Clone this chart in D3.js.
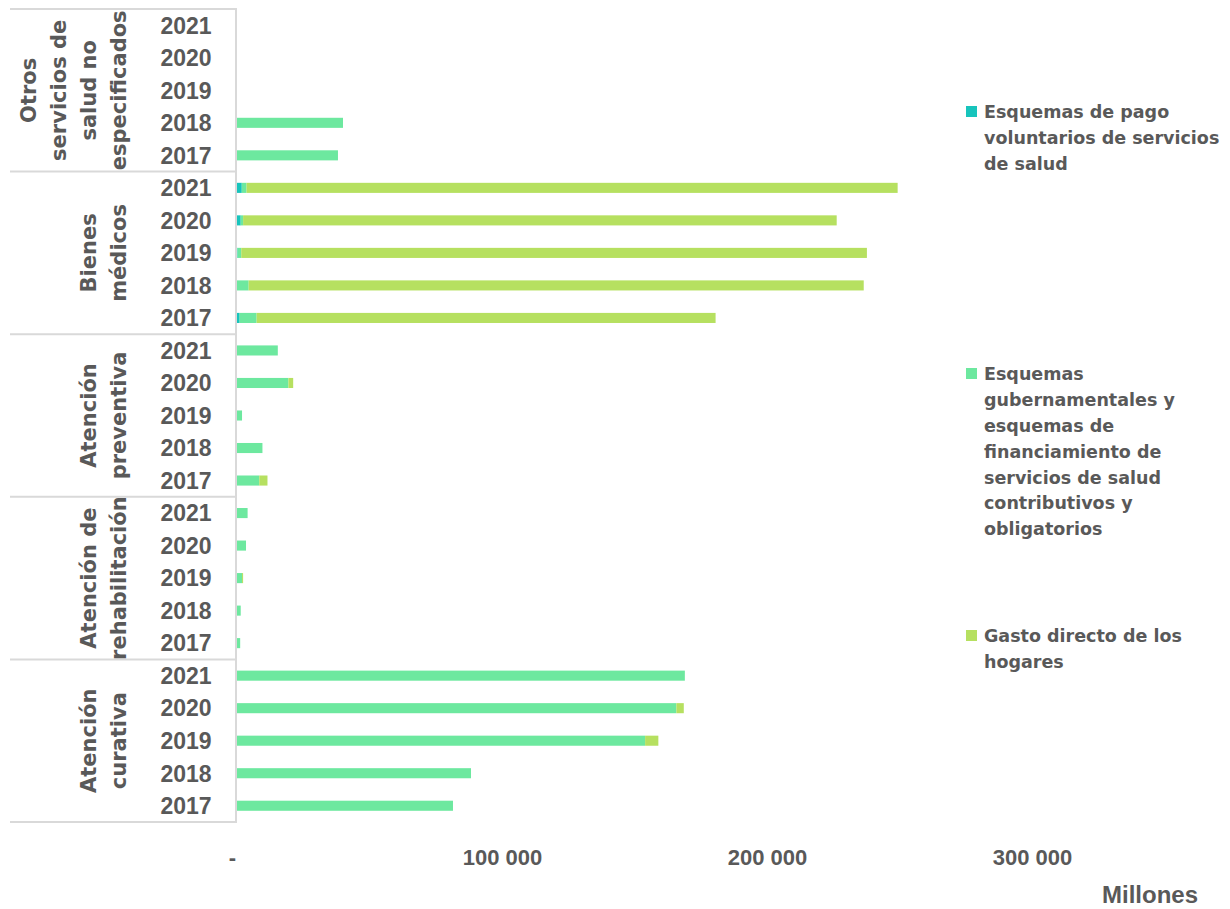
<!DOCTYPE html>
<html>
<head>
<meta charset="utf-8">
<script src="https://cdn.jsdelivr.net/npm/d3@7"></script>
<style>
  body { margin: 0; background: #fff; }
  text { font-family: "Liberation Sans", Arial, sans-serif; font-weight: bold; fill: #595959; }
  .wide { font-family: "DejaVu Sans", sans-serif; }
</style>
</head>
<body>
<div id="chart"></div>
<script>
// categories (top to bottom)
const groups = [
  'Otros servicios de salud no especificados',
  'Bienes médicos',
  'Atención preventiva',
  'Atención de rehabilitación',
  'Atención curativa'
];
const groupLines = [
  ['Otros', 'servicios de', 'salud no', 'especificados'],
  ['Bienes', 'médicos'],
  ['Atención', 'preventiva'],
  ['Atención de', 'rehabilitación'],
  ['Atención', 'curativa']
];
const years = ['2021', '2020', '2019', '2018', '2017'];

// series values, millones, per group in years order
const voluntarios = [
  [0, 0, 0, 0, 0],
  [1800, 1400, 200, 0, 1000],
  [0, 0, 0, 0, 0],
  [0, 0, 0, 0, 0],
  [0, 0, 0, 0, 0]
];
const gubernamentales = [
  [0, 0, 0, 40000, 38100],
  [1800, 900, 1400, 4400, 6400],
  [15400, 19400, 1900, 9600, 8400],
  [4000, 3400, 1900, 1400, 1200],
  [169000, 165800, 154000, 88300, 81500]
];
const hogares = [
  [0, 0, 0, 0, 0],
  [245700, 224000, 236100, 232100, 173200],
  [0, 1800, 0, 0, 3100],
  [0, 0, 400, 0, 0],
  [0, 2800, 5000, 0, 0]
];

const seriesNames = [
  ['Esquemas de pago', 'voluntarios de servicios', 'de salud'],
  ['Esquemas', 'gubernamentales y', 'esquemas de', 'financiamiento de', 'servicios de salud', 'contributivos y', 'obligatorios'],
  ['Gasto directo de los', 'hogares']
];
const seriesColors = ['#17C4BC', '#6DE89F', '#B6E060'];
const xTicks = [0, 100000, 200000, 300000];

const width = 1230, height = 909;
const svg = d3.select('#chart').append('svg')
  .attr('width', width).attr('height', height);

// flat rows
const rows = [];
groups.forEach((g, gi) => {
  years.forEach((y, yi) => {
    rows.push({
      key: gi + '-' + y, group: gi, year: y,
      v: [voluntarios[gi][yi], gubernamentales[gi][yi], hogares[gi][yi]]
    });
  });
});

const x = d3.scaleLinear().domain([0, 300000]).range([237, 1032]);
const y = d3.scaleBand().domain(rows.map(r => r.key)).range([9, 822])
  .paddingInner(0.69).paddingOuter(0.345);
const step = y.step();

// stacked bars
const stack = d3.stack().keys([0, 1, 2]).value((d, k) => d.v[k]);
const layers = stack(rows);
svg.append('g').selectAll('g').data(layers).enter().append('g')
  .attr('fill', (d, i) => seriesColors[i])
  .selectAll('rect').data(d => d).enter().append('rect')
  .attr('x', d => x(d[0]))
  .attr('y', d => y(d.data.key))
  .attr('width', d => Math.max(0, x(d[1]) - x(d[0])))
  .attr('height', y.bandwidth());

// category axis frame
const frame = svg.append('g').attr('stroke', '#D9D9D9').attr('stroke-width', 2);
frame.append('line').attr('x1', 236).attr('x2', 236).attr('y1', 8).attr('y2', 823);
for (let gi = 0; gi <= groups.length; gi++) {
  const yy = 9 + gi * 5 * step;
  frame.append('line').attr('x1', 10).attr('x2', 236).attr('y1', yy).attr('y2', yy);
}

// year labels
svg.append('g').selectAll('text').data(rows).enter().append('text')
  .attr('x', 186)
  .attr('y', d => y(d.key) + y.bandwidth() / 2)
  .attr('dy', '0.36em')
  .attr('text-anchor', 'middle')
  .style('font-size', '23px')
  .text(d => d.year);

// group labels (rotated)
groupLines.forEach((lines, gi) => {
  const cy = 9 + (gi * 5 + 2.5) * step;
  const n = lines.length;
  const t = svg.append('text').attr('class', 'wide')
    .attr('transform', `translate(${126},${cy}) rotate(-90)`)
    .attr('text-anchor', 'middle')
    .style('font-size', '21px');
  lines.forEach((l, li) => {
    t.append('tspan').attr('x', 0).attr('y', -(n - 1 - li) * 30).text(l);
  });
});

// x axis labels
const xAxis = d3.axisBottom(x).tickValues(xTicks).tickSize(0)
  .tickFormat(d => d === 0 ? '-' : d3.format(',')(d).replace(/,/g, ' '));
const ax = svg.append('g').attr('transform', 'translate(0,846)').call(xAxis);
ax.select('.domain').remove();
ax.selectAll('text').attr('fill', '#595959').attr('dy', 0)
  .attr('y', 19)
  .style('font-size', '22px')
  .style('font-family', '"Liberation Sans", Arial, sans-serif')
  .style('font-weight', 'bold');
ax.selectAll('.tick').filter(d => d === 0).select('text').attr('x', -5);

svg.append('text').attr('x', 1198).attr('y', 903)
  .attr('text-anchor', 'end').style('font-size', '24px').text('Millones');

// legend
const legendTops = [112, 374, 636];
const leg = svg.append('g').selectAll('g').data(seriesNames).enter().append('g')
  .attr('transform', (d, i) => `translate(966,${legendTops[i]})`);
leg.append('rect').attr('x', 0).attr('y', -6).attr('width', 11).attr('height', 11)
  .attr('fill', (d, i) => seriesColors[i]);
leg.append('text').attr('class', 'wide').style('font-size', '17.5px')
  .selectAll('tspan').data(d => d).enter().append('tspan')
  .attr('x', 18).attr('y', (d, i) => i * 25.8).attr('dy', '0.36em')
  .text(d => d);
</script>
</body>
</html>
